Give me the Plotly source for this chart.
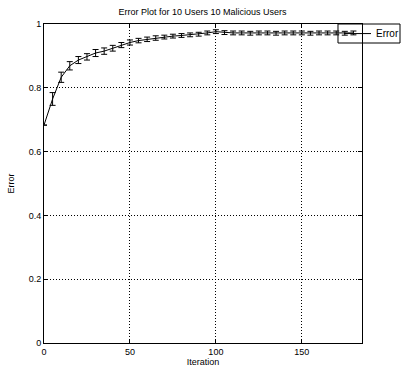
import plotly.graph_objects as go

# Mean error per iteration with its spread
iterations = list(range(0, 185, 5))
error_mean = [0.683, 0.765, 0.833, 0.869, 0.887, 0.897, 0.909, 0.915, 0.924, 0.934,
              0.942, 0.948, 0.952, 0.956, 0.959, 0.962, 0.964, 0.966, 0.968, 0.972,
              0.976, 0.973, 0.972, 0.972, 0.971, 0.972, 0.972, 0.971, 0.972, 0.972,
              0.972, 0.971, 0.972, 0.972, 0.972, 0.971, 0.972]
error_spread = [0.0, 0.020, 0.016, 0.013, 0.011, 0.010, 0.011, 0.010, 0.009, 0.008,
                0.008, 0.007, 0.007, 0.007, 0.006, 0.006, 0.006, 0.006, 0.006, 0.006,
                0.006, 0.006, 0.006, 0.006, 0.006, 0.006, 0.006, 0.006, 0.006, 0.006,
                0.006, 0.006, 0.006, 0.006, 0.006, 0.006, 0.006]

x_ticks = [0, 50, 100, 150]
y_ticks = [0, 0.2, 0.4, 0.6, 0.8, 1]
y_tick_text = ["0", "0.2", "0.4", "0.6", "0.8", "1"]
series_name = "Error"

fig = go.Figure()
fig.add_trace(go.Scatter(
    x=iterations, y=error_mean, mode="lines", name=series_name,
    line=dict(color="black", width=1),
    error_y=dict(type="data", array=error_spread, visible=True,
                 color="black", thickness=1, width=3),
    showlegend=False,
))

font_family = "Liberation Sans, Arial, sans-serif"
axis_common = dict(
    showline=True, linecolor="black", linewidth=1, mirror="ticks",
    ticks="inside", ticklen=4, tickcolor="black",
    showgrid=True, gridcolor="black", gridwidth=1, griddash="1px,2px",
    zeroline=False, tickfont=dict(size=9, color="black", family=font_family),
)

# Legend box drawn in paper coordinates, overlapping the top-right corner
legend_box = dict(type="rect", xref="paper", yref="paper",
                  x0=0.9245, x1=1.1195, y0=0.9404, y1=1.0,
                  line=dict(color="black", width=1), fillcolor="rgba(0,0,0,0)")
legend_line = dict(type="line", xref="paper", yref="paper",
                   x0=0.9434, x1=1.0283, y0=0.970, y1=0.970,
                   line=dict(color="black", width=1))

fig.update_layout(
    width=401, height=369,
    margin=dict(l=44, r=39, t=24, b=26, autoexpand=False),
    paper_bgcolor="white", plot_bgcolor="white",
    font=dict(family=font_family, color="black", size=9),
    title=dict(text="Error Plot for 10 Users 10 Malicious Users", x=0.505, xanchor="center",
               y=0.967, yanchor="middle", font=dict(size=9, color="black")),
    xaxis=dict(range=[0, 185], tickvals=x_ticks,
               title=dict(text="Iteration", standoff=2, font=dict(size=9)), **axis_common),
    yaxis=dict(range=[0, 1], tickvals=y_ticks, ticktext=y_tick_text,
               title=dict(text="Error", standoff=12, font=dict(size=9)), **axis_common),
    showlegend=False,
    shapes=[legend_box, legend_line],
    annotations=[dict(text=series_name, xref="paper", yref="paper",
                      x=1.0377, y=0.970, xanchor="left", yanchor="middle",
                      showarrow=False, font=dict(size=10, color="black"))],
)

fig.write_html("out.html")
